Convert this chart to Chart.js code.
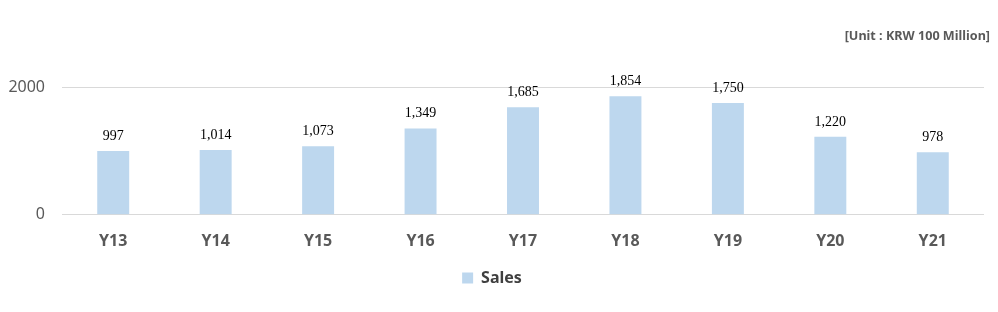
<!DOCTYPE html>
<html>
<head>
<meta charset="utf-8">
<script src="https://cdn.jsdelivr.net/npm/chart.js@4"></script>
<style>
  html, body { margin: 0; padding: 0; background: #fff; }
  #wrap { width: 998px; height: 312px; }
</style>
</head>
<body>
<div id="wrap"><canvas id="salesChart" width="998" height="312"></canvas></div>
<script>
const years = ['Y13', 'Y14', 'Y15', 'Y16', 'Y17', 'Y18', 'Y19', 'Y20', 'Y21'];
const sales = [997, 1014, 1073, 1349, 1685, 1854, 1750, 1220, 978];
const unitLabel = '[Unit : KRW 100 Million]';

// value labels above each bar + unit note in the top right corner
const barLabels = {
    id: 'barLabels',
    afterDatasetsDraw(chart) {
        const ctx = chart.ctx;
        const meta = chart.getDatasetMeta(0);
        ctx.save();
        ctx.font = '14px "Liberation Serif", "DejaVu Serif", serif';
        ctx.fillStyle = '#000';
        ctx.textAlign = 'center';
        ctx.textBaseline = 'bottom';
        meta.data.forEach((bar, i) => {
            ctx.fillText(sales[i].toLocaleString('en-US'), bar.x, bar.y - 8);
        });
        ctx.font = 'bold 12.6px "Noto Sans"';
        ctx.fillStyle = '#595959';
        ctx.textAlign = 'right';
        ctx.textBaseline = 'middle';
        ctx.fillText(unitLabel, 990, 36);
        ctx.restore();
    }
};

new Chart(document.getElementById('salesChart'), {
    type: 'bar',
    data: {
        labels: years,
        datasets: [{
            label: 'Sales',
            data: sales,
            backgroundColor: '#bdd7ee',
            barPercentage: 0.52,
            categoryPercentage: 0.6
        }]
    },
    options: {
        responsive: false,
        animation: false,
        layout: { padding: { top: 87, right: 14, bottom: 16, left: 0 } },
        plugins: {
            legend: {
                position: 'bottom',
                labels: {
                    boxWidth: 11,
                    boxHeight: 11,
                    color: '#404040',
                    font: { family: 'Noto Sans', size: 16, weight: 'bold' }
                }
            },
            tooltip: { enabled: false }
        },
        scales: {
            x: {
                grid: { display: false },
                border: { display: false },
                ticks: {
                    color: '#595959',
                    padding: 9,
                    font: { family: 'Noto Sans', size: 16, weight: 'bold' }
                }
            },
            y: {
                min: 0,
                max: 2000,
                afterFit(scale) { scale.width = 62; },
                grid: { color: '#d9d9d9', drawTicks: false },
                border: { display: false },
                ticks: {
                    stepSize: 2000,
                    padding: 17,
                    color: '#595959',
                    font: { family: 'Noto Sans', size: 16 },
                    callback: (v) => String(v)
                }
            }
        }
    },
    plugins: [barLabels]
});
</script>
</body>
</html>
